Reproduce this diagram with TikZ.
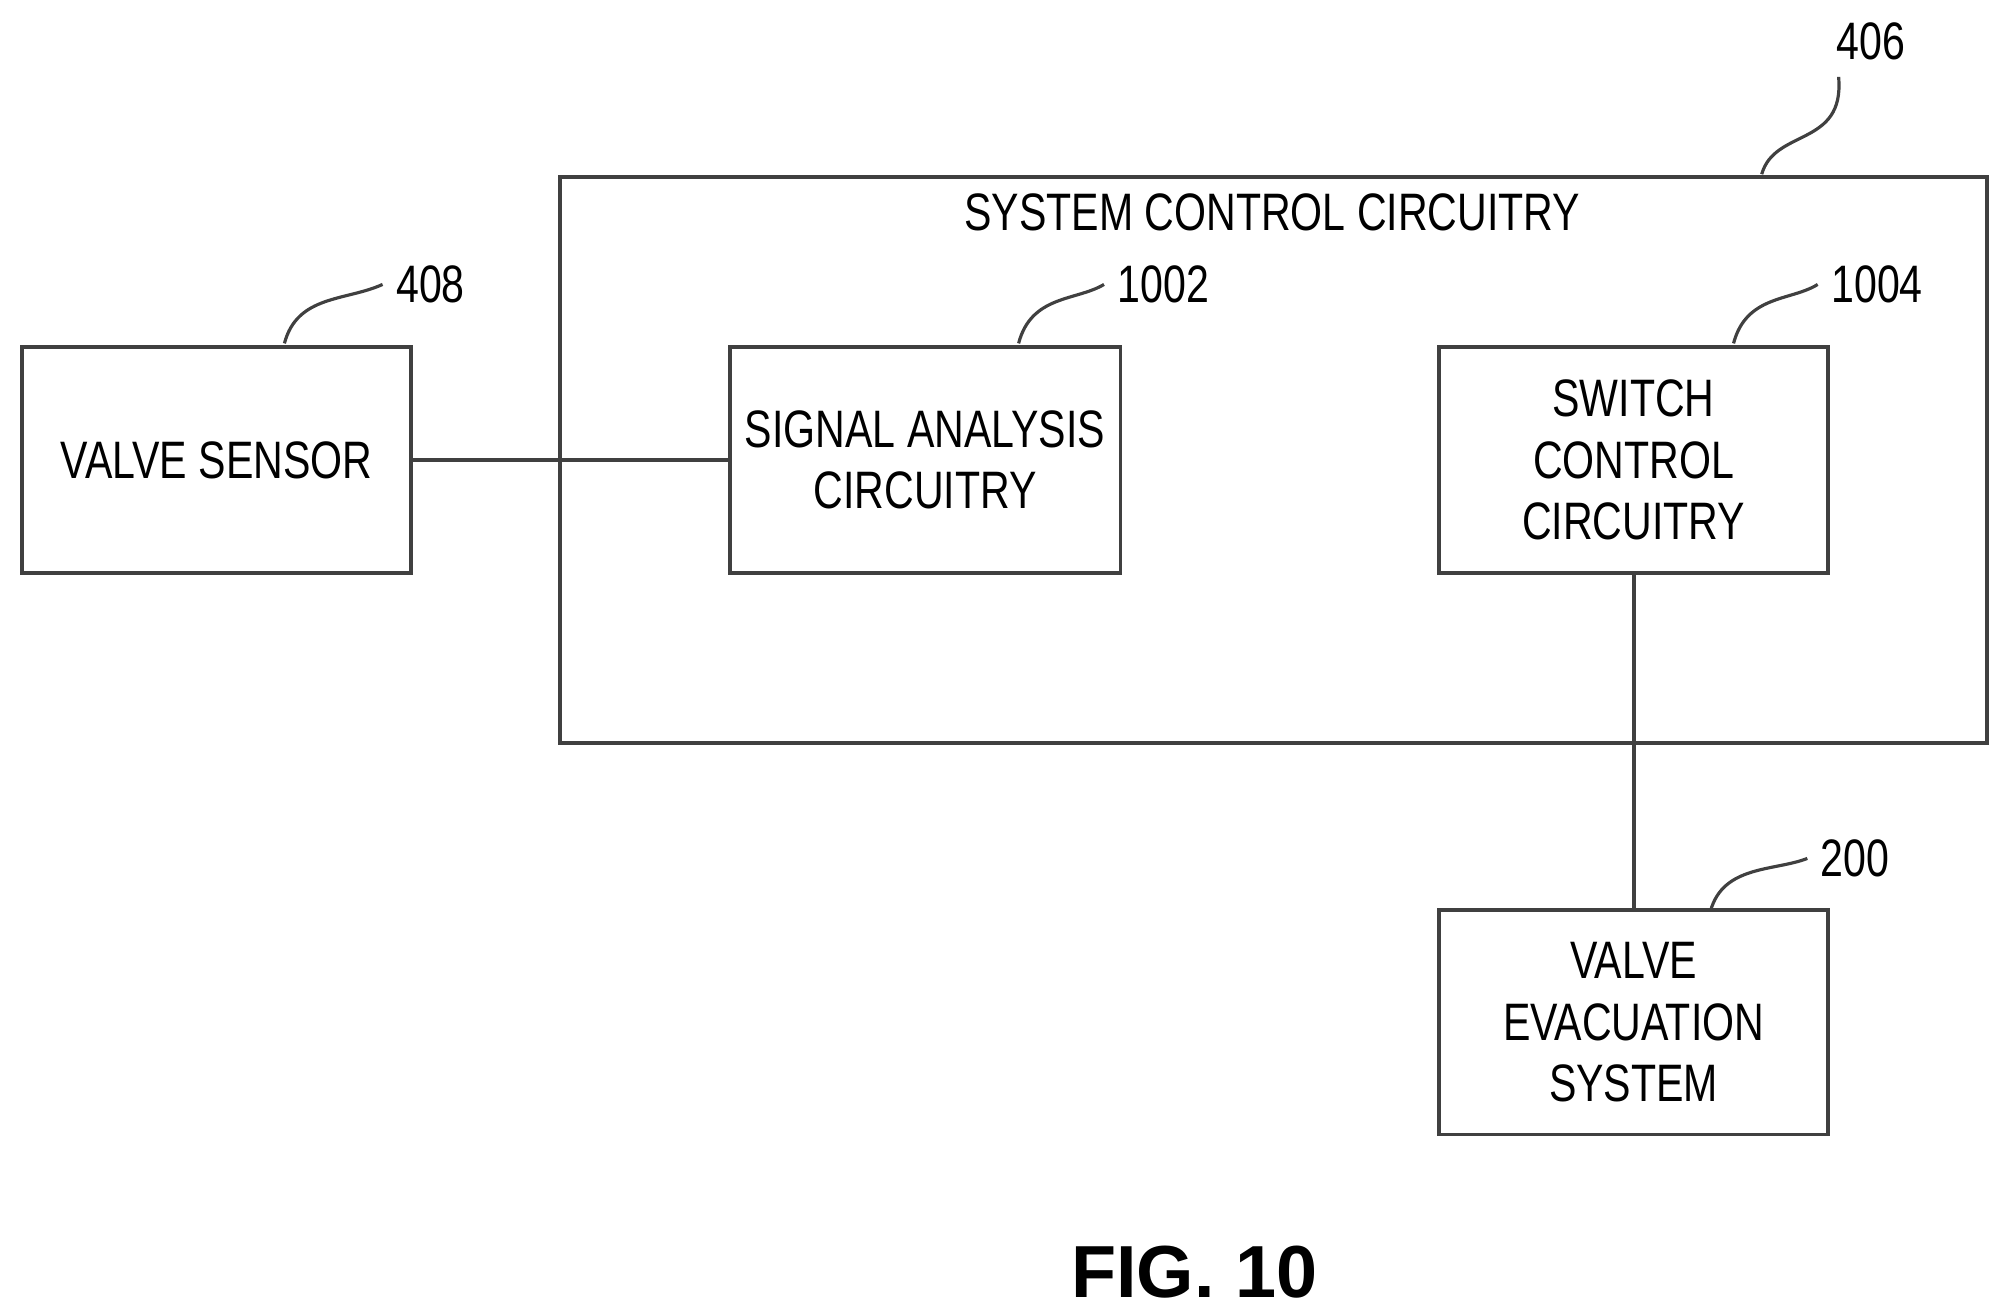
\documentclass[tikz,border=0pt]{standalone}
\usepackage{fontspec}
\setmainfont{Liberation Sans}[FakeStretch=0.78]
\newfontfamily\figfont{Liberation Sans}
\begin{document}
\begin{tikzpicture}[x=0.01281cm, y=-0.01281cm, line width=1.1pt,
  box/.style={draw=black!75, rectangle, inner sep=0pt},
  lbl/.style={font=\fontsize{15}{17.5}\selectfont, align=center},
  lead/.style={draw=black!75, line width=0.9pt}]
  \useasboundingbox (0,0) rectangle (1568,1027);

  % boxes
  \node[box, minimum width=1114*0.01281cm, minimum height=442*0.01281cm] at (994,359) (sys) {};
  \node[lbl] at (993,166) (systitle) {SYSTEM CONTROL CIRCUITRY};
  \node[box, lbl, minimum width=304*0.01281cm, minimum height=176*0.01281cm] at (169,359) (sensor) {VALVE SENSOR};
  \node[box, lbl, minimum width=305*0.01281cm, minimum height=176*0.01281cm] at (722,359) (analysis) {SIGNAL ANALYSIS\\CIRCUITRY};
  \node[box, lbl, minimum width=304*0.01281cm, minimum height=176*0.01281cm] at (1275,359) (switch) {SWITCH\\CONTROL\\CIRCUITRY};
  \node[box, lbl, minimum width=304*0.01281cm, minimum height=175*0.01281cm] at (1275,798) (evac) {VALVE\\EVACUATION\\SYSTEM};

  % connectors
  \draw[draw=black!75] (sensor.east) -- (analysis.west);
  \draw[draw=black!75] (switch.south) -- (evac.north);

  % reference numerals
  \node[lbl] at (1460,32) (n406) {406};
  \node[lbl] at (336,222) (n408) {408};
  \node[lbl] at (908,222) (n1002) {1002};
  \node[lbl] at (1465,222) (n1004) {1004};
  \node[lbl] at (1448,670) (n200) {200};
  \draw[lead] (1375,136) .. controls (1385,100) and (1440,115) .. (1435,60);
  \draw[lead] (222,268) .. controls (232,230) and (270,235) .. (n408.west);
  \draw[lead] (795,268) .. controls (805,230) and (840,235) .. (n1002.west);
  \draw[lead] (1353,268) .. controls (1363,230) and (1398,235) .. (n1004.west);
  \draw[lead] (1335,711) .. controls (1345,675) and (1385,680) .. (n200.west);

  \node[font=\figfont\fontsize{21}{25}\selectfont\bfseries] at (932,993) (fig) {FIG. 10};
\end{tikzpicture}
\end{document}
